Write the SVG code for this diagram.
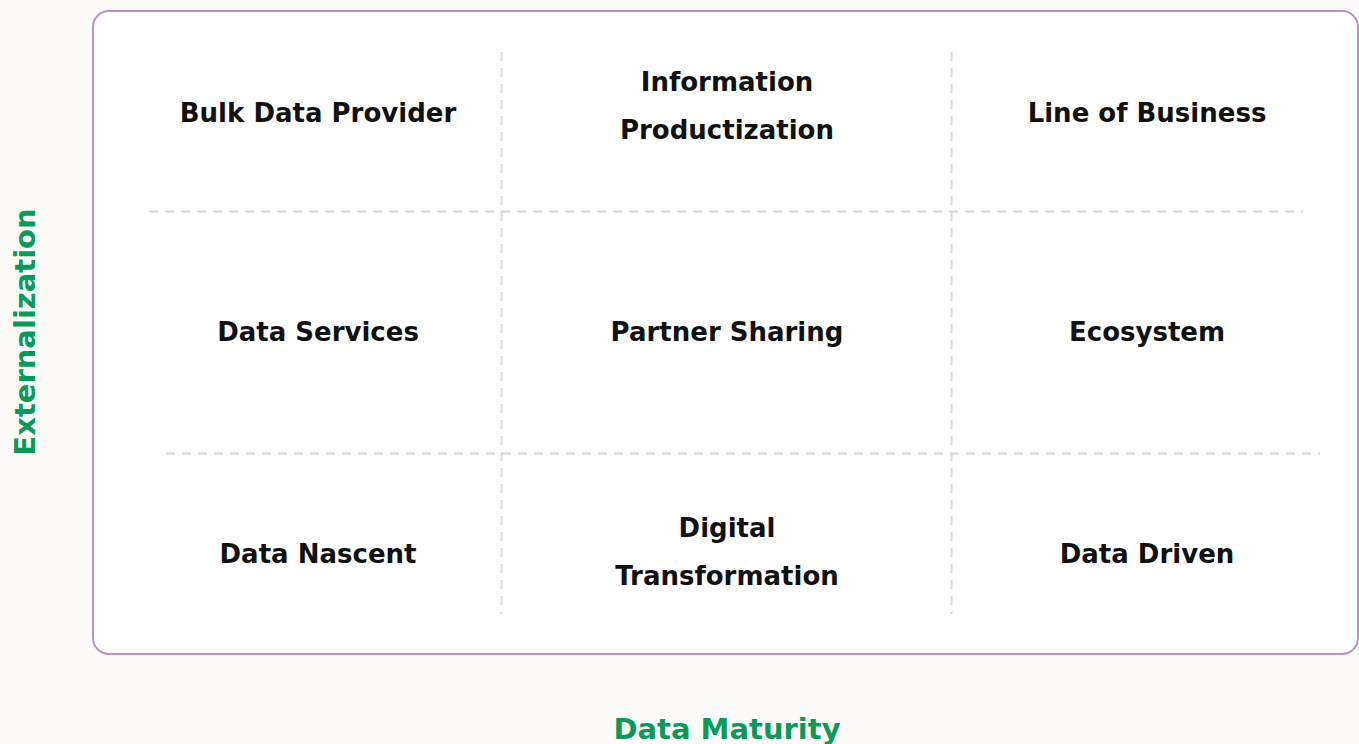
<svg xmlns="http://www.w3.org/2000/svg" width="1359" height="744" viewBox="0 0 1359 744">
  <style>
    .cell { font-family: "DejaVu Sans", "Liberation Sans", sans-serif; font-weight: 700; font-size: 26px; fill: #111111; text-anchor: middle; }
    .axis { font-family: "DejaVu Sans", "Liberation Sans", sans-serif; font-weight: 700; font-size: 29px; fill: #079b57; text-anchor: middle; }
    .grid { stroke: #d3dad7; stroke-width: 2; stroke-dasharray: 9 7; fill: none; }
  </style>
  <rect x="0" y="0" width="1359" height="744" fill="#fcfbfa"/>
  <rect id="frame" x="93" y="11" width="1265" height="643" rx="16" ry="16" fill="#ffffff" stroke="#c08fc4" stroke-width="2"/>

  <g id="connectors">
    <line class="grid" x1="149" y1="211.5" x2="1303" y2="211.5"/>
    <line class="grid" x1="166" y1="453.5" x2="1320" y2="453.5"/>
    <line class="grid" x1="501.5" y1="52" x2="501.5" y2="614"/>
    <line class="grid" x1="951.5" y1="52" x2="951.5" y2="614"/>
  </g>

  <g id="bulk-data-provider"><text class="cell" x="318" y="122">Bulk Data Provider</text></g>
  <g id="information-productization"><text class="cell" x="727" y="91">Information</text><text class="cell" x="727" y="139">Productization</text></g>
  <g id="line-of-business"><text class="cell" x="1147" y="122">Line of Business</text></g>

  <g id="data-services"><text class="cell" x="318" y="341">Data Services</text></g>
  <g id="partner-sharing"><text class="cell" x="727" y="341">Partner Sharing</text></g>
  <g id="ecosystem"><text class="cell" x="1147" y="341">Ecosystem</text></g>

  <g id="data-nascent"><text class="cell" x="318" y="563">Data Nascent</text></g>
  <g id="digital-transformation"><text class="cell" x="727" y="537">Digital</text><text class="cell" x="727" y="585">Transformation</text></g>
  <g id="data-driven"><text class="cell" x="1147" y="563">Data Driven</text></g>

  <g id="axis-y"><text class="axis" transform="translate(35 332) rotate(-90)">Externalization</text></g>
  <g id="axis-x"><text class="axis" x="727" y="739">Data Maturity</text></g>
</svg>
